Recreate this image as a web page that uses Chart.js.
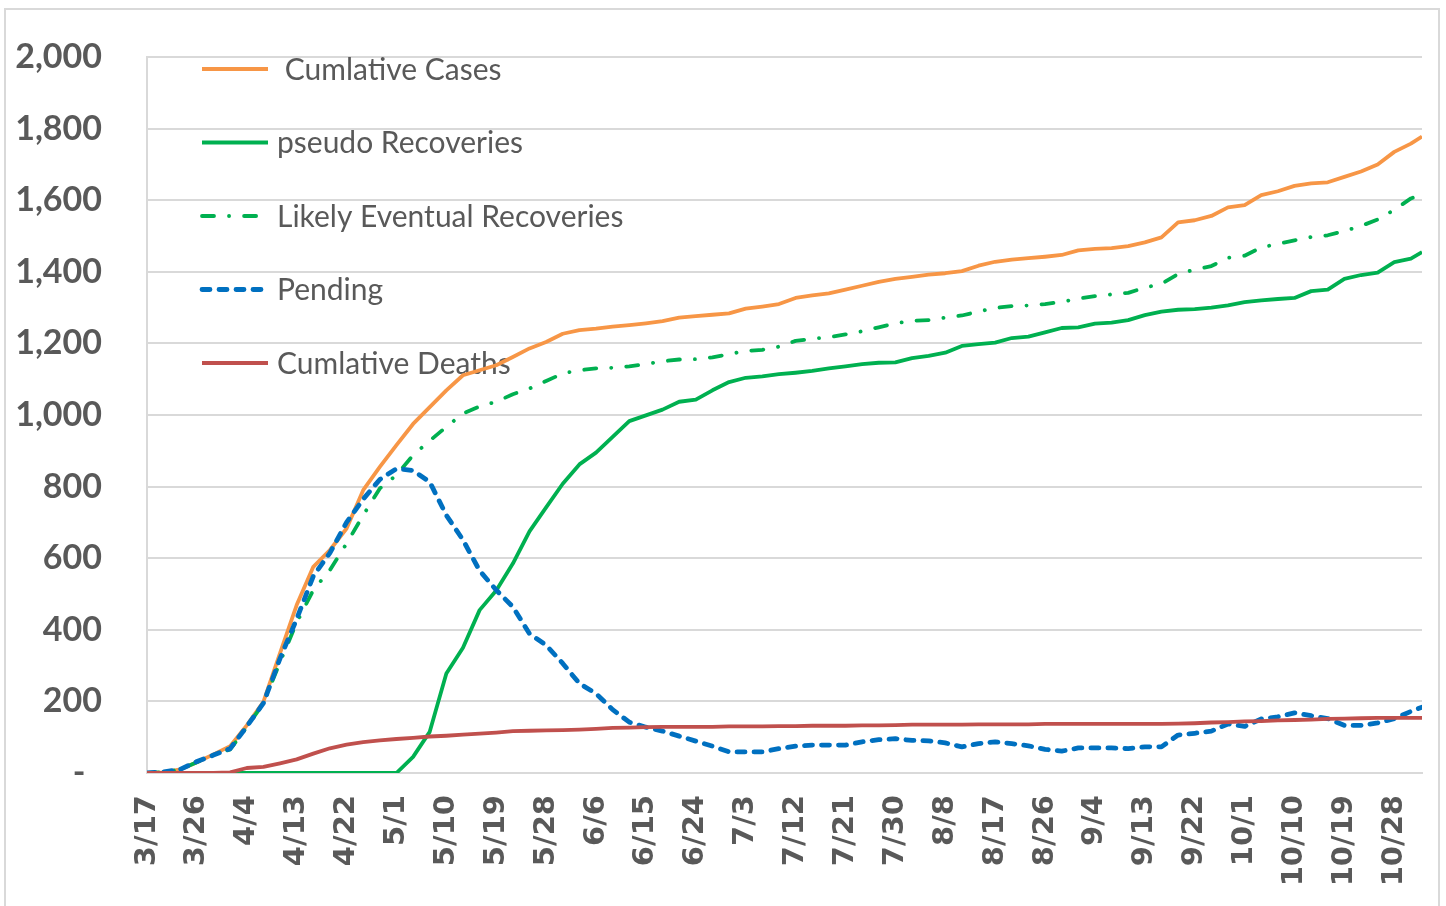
<!DOCTYPE html>
<html>
<head>
<meta charset="utf-8">
<script src="https://cdn.jsdelivr.net/npm/chart.js@4.4.1/dist/chart.umd.min.js"></script>
<style>
  html, body { margin: 0; padding: 0; background: #fff; overflow: hidden; }
  #frame { position: absolute; left: 4px; top: 8px; width: 1436px; height: 910px; border: 2px solid #d9d9d9; box-sizing: border-box; }
  #myChart { position: absolute; left: 0; top: 0; }
</style>
</head>
<body>
<div id="frame"></div>
<canvas id="myChart" width="1446" height="906"></canvas>
<script>
// day offsets from 3/17
const days = [0, 3, 6, 9, 12, 15, 18, 21, 24, 27,
  30, 33, 36, 39, 42, 45, 48, 51, 54, 57,
  60, 63, 66, 69, 72, 75, 78, 81, 84, 87,
  90, 93, 96, 99, 102, 105, 108, 111, 114, 117,
  120, 123, 126, 129, 132, 135, 138, 141, 144, 147,
  150, 153, 156, 159, 162, 165, 168, 171, 174, 177,
  180, 183, 186, 189, 192, 195, 198, 201, 204, 207,
  210, 213, 216, 219, 222, 225, 228, 230];

const seriesNames = [' Cumlative Cases', 'pseudo Recoveries', 'Likely Eventual Recoveries', 'Pending', 'Cumlative Deaths'];

const cases = [0, 2, 10, 30, 52, 75, 133, 199, 335, 469,
  576, 623, 683, 790, 855, 916, 975, 1022, 1069, 1111,
  1125, 1139, 1162, 1186, 1204, 1227, 1237, 1241, 1247, 1251,
  1256, 1262, 1272, 1276, 1280, 1284, 1297, 1303, 1310, 1327,
  1334, 1340, 1350, 1361, 1372, 1380, 1386, 1392, 1396, 1402,
  1417, 1428, 1434, 1438, 1442, 1447, 1460, 1464, 1466, 1472,
  1482, 1496, 1538, 1544, 1556, 1580, 1586, 1614, 1625, 1640,
  1647, 1650, 1665, 1680, 1700, 1735, 1758, 1778];

const recoveries = [0, 0, 0, 0, 0, 0, 0, 0, 0, 0,
  0, 0, 0, 0, 0, 0, 45, 115, 278, 350,
  455, 510, 585, 675, 742, 808, 862, 895, 939, 983,
  999, 1015, 1037, 1043, 1069, 1092, 1104, 1108, 1114, 1118,
  1123, 1130, 1136, 1142, 1146, 1147, 1159, 1165, 1174, 1193,
  1198, 1202, 1215, 1219, 1231, 1243, 1245, 1255, 1258, 1265,
  1279, 1289, 1294, 1296, 1300, 1306, 1315, 1320, 1324, 1327,
  1346, 1350, 1380, 1391, 1398, 1427, 1437, 1455];

const likely = [0, 2, 10, 30, 50, 66, 128, 195, 310, 420,
  511, 567, 641, 720, 795, 832, 888, 928, 967, 1004,
  1024, 1037, 1058, 1074, 1095, 1116, 1125, 1130, 1132, 1136,
  1142, 1150, 1155, 1156, 1161, 1170, 1179, 1182, 1191, 1207,
  1213, 1217, 1225, 1234, 1245, 1256, 1263, 1265, 1272, 1278,
  1289, 1299, 1304, 1306, 1310, 1316, 1325, 1332, 1337, 1341,
  1356, 1366, 1394, 1406, 1416, 1439, 1445, 1468, 1478, 1488,
  1497, 1502, 1514, 1528, 1546, 1573, 1605, 1617];

const pending = [0, 3, 10, 32, 50, 68, 130, 195, 320, 430,
  550, 615, 700, 765, 820, 850, 845, 813, 720, 651,
  565, 511, 464, 389, 357, 306, 250, 222, 177, 142,
  128, 117, 103, 89, 75, 59, 59, 59, 68, 75,
  78, 78, 78, 87, 93, 96, 91, 90, 84, 73,
  82, 87, 82, 76, 66, 61, 70, 70, 70, 68,
  73, 73, 106, 111, 117, 137, 130, 151, 157, 168,
  160, 152, 133, 133, 140, 152, 172, 184];

const deaths = [0, 0, 0, 0, 0, 2, 14, 17, 27, 38,
  54, 69, 79, 86, 91, 95, 98, 102, 104, 107,
  110, 113, 117, 118, 119, 120, 121, 123, 126, 127,
  128, 129, 129, 129, 129, 130, 130, 130, 131, 131,
  132, 132, 132, 133, 133, 134, 135, 135, 135, 135,
  136, 136, 136, 136, 137, 137, 137, 137, 137, 137,
  137, 137, 138, 139, 141, 142, 144, 145, 147, 148,
  149, 151, 152, 153, 154, 154, 154, 154];

const yMin = 0, yMax = 2000, yStep = 200;
const xMax = 230, xStep = 9;

function toPoints(values) {
  return days.map((d, i) => ({ x: d, y: values[i] }));
}

function dayLabel(offset) {
  const dt = new Date(2020, 2, 17 + offset);
  return `${dt.getMonth() + 1}/${dt.getDate()}`;
}

// legend drawn inside the plot, under the lines (like the Excel original)
const insideLegend = {
  id: 'insideLegend',
  beforeDatasetsDraw(chart) {
    const ctx = chart.ctx;
    const left = chart.chartArea.left;
    const top = chart.chartArea.top;
    chart.data.datasets.forEach((ds, i) => {
      const y = top + 12 + i * 73.5;
      ctx.save();
      ctx.strokeStyle = ds.borderColor;
      ctx.lineWidth = ds.borderWidth;
      ctx.lineCap = ds.borderCapStyle || 'butt';
      ctx.setLineDash(ds.borderDash || []);
      ctx.beginPath();
      ctx.moveTo(left + 55, y);
      ctx.lineTo(left + 121, y);
      ctx.stroke();
      ctx.setLineDash([]);
      ctx.fillStyle = '#595959';
      ctx.font = '30px Lato';
      ctx.textBaseline = 'middle';
      ctx.fillText(ds.label, left + 130, y + 1);
      ctx.restore();
    });
  }
};

const ctx = document.getElementById('myChart').getContext('2d');

new Chart(ctx, {
  type: 'line',
  data: {
    datasets: [
      { label: seriesNames[0], data: toPoints(cases), borderColor: '#F79646', borderWidth: 3.8, order: 5 },
      { label: seriesNames[1], data: toPoints(recoveries), borderColor: '#00B050', borderWidth: 3.8, order: 4 },
      { label: seriesNames[2], data: toPoints(likely), borderColor: '#00B050', borderWidth: 3.8, borderDash: [12, 15, 0.1, 15], borderCapStyle: 'round', order: 3 },
      { label: seriesNames[3], data: toPoints(pending), borderColor: '#0070C0', borderWidth: 4.8, borderDash: [8, 9], borderCapStyle: 'round', order: 2 },
      { label: seriesNames[4], data: toPoints(deaths), borderColor: '#C0504D', borderWidth: 3.8, order: 1 }
    ]
  },
  options: {
    responsive: false,
    animation: false,
    layout: { autoPadding: false, padding: { left: 0, right: 24, top: 57, bottom: 0 } },
    elements: {
      point: { radius: 0 },
      line: { tension: 0, fill: false, borderJoinStyle: 'round' }
    },
    plugins: {
      legend: { display: false },
      tooltip: { enabled: false }
    },
    scales: {
      x: {
        type: 'linear',
        min: 0,
        max: xMax,
        afterFit(scale) {
          scale.height = 133;
          scale.paddingLeft = 0;
          scale.paddingRight = 0;
        },
        afterBuildTicks(scale) {
          const ticks = [];
          for (let v = 0; v <= xMax; v += xStep) ticks.push({ value: v });
          scale.ticks = ticks;
        },
        grid: { display: false, drawTicks: false },
        border: { display: true, color: '#d9d9d9', width: 2 },
        ticks: {
          autoSkip: false,
          minRotation: 90,
          maxRotation: 90,
          padding: 22,
          color: '#595959',
          font: { family: 'DejaVu Sans', size: 29, weight: 'bold' },
          callback: (v) => dayLabel(v)
        }
      },
      y: {
        min: yMin,
        max: yMax,
        afterFit(scale) {
          scale.width = 147;
          scale.paddingTop = 0;
          scale.paddingBottom = 0;
        },
        grid: { color: '#d9d9d9', lineWidth: 2, drawTicks: false },
        border: { display: true, color: '#d9d9d9', width: 2 },
        ticks: {
          stepSize: yStep,
          padding: 45,
          color: '#595959',
          font: { family: 'Lato', size: 34, weight: 'bold' },
          callback: (v) => v === 0 ? '-  ' : v.toLocaleString('en-US')
        }
      }
    }
  },
  plugins: [insideLegend]
});
</script>
</body>
</html>
